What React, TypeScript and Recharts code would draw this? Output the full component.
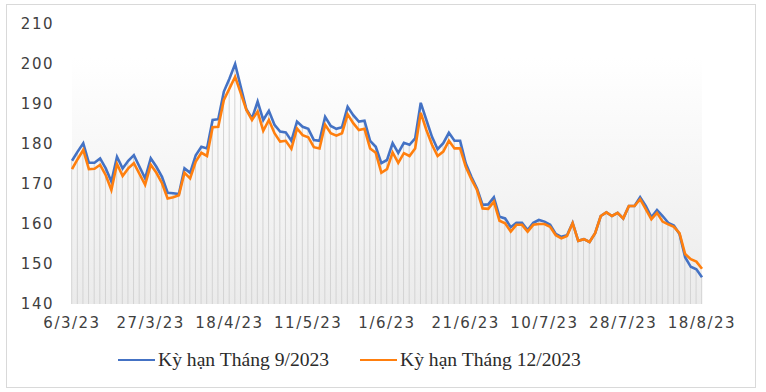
import React from "react"
import { ComposedChart, Bar, Line, XAxis, YAxis, CartesianGrid } from "recharts"

// Kỳ hạn Tháng 9/2023
const blue = [
  175.8, 178.1, 180.2, 175.3, 175.3, 176.4, 173.9, 170.6, 176.8, 173.9,
  175.8, 177.2, 174.3, 171.4, 176.4, 174.3, 171.8, 167.8, 167.7, 167.5,
  173.9, 172.8, 177.2, 179.3, 178.9, 186.0, 186.2, 193.1, 196.4, 200.0,
  194.3, 188.7, 186.4, 190.6, 186.0, 188.3, 184.8, 183.1, 182.9, 180.8,
  185.6, 184.3, 183.8, 181.0, 180.8, 186.8, 184.5, 183.8, 184.2, 189.3,
  187.2, 185.6, 185.8, 180.8, 179.3, 175.2, 176.0, 180.2, 177.8, 180.3,
  179.8, 181.4, 190.3, 186.0, 181.8, 178.7, 180.2, 182.8, 180.8, 180.8,
  175.2, 171.8, 168.9, 164.8, 164.9, 166.7, 161.8, 161.4, 159.2, 160.3,
  160.3, 158.5, 160.3, 161.0, 160.6, 159.8, 157.5, 156.8, 157.2, 160.3,
  155.8, 156.2, 155.5, 157.7, 162.0, 162.9, 162.0, 162.8, 161.4, 164.5,
  164.5, 166.7, 164.5, 161.7, 163.5, 162.0, 160.3, 159.6, 157.5, 151.7,
  149.3, 148.7, 146.7,
]

// Kỳ hạn Tháng 12/2023
const orange = [
  173.7, 176.2, 178.5, 173.7, 173.8, 174.8, 172.2, 168.5, 175.0, 172.0,
  173.9, 175.2, 172.5, 169.8, 174.8, 172.8, 170.2, 166.4, 166.7, 167.2,
  172.8, 171.4, 175.6, 177.8, 177.0, 184.2, 184.3, 191.0, 193.9, 196.8,
  192.7, 188.5, 186.0, 188.1, 183.3, 186.0, 182.7, 180.6, 180.8, 178.8,
  183.9, 182.2, 181.7, 179.2, 178.9, 184.8, 182.7, 182.1, 182.7, 187.4,
  185.2, 183.5, 183.8, 178.9, 177.8, 172.8, 173.7, 177.9, 175.3, 177.7,
  177.0, 178.9, 187.8, 183.5, 179.8, 177.0, 178.1, 180.8, 178.9, 178.9,
  174.3, 171.2, 168.5, 163.9, 163.8, 165.6, 160.8, 160.2, 158.1, 159.8,
  159.8, 158.1, 159.8, 160.0, 160.0, 159.3, 157.2, 156.4, 157.0, 160.2,
  155.8, 156.2, 155.5, 157.7, 162.0, 162.9, 162.0, 162.8, 161.4, 164.5,
  164.5, 166.2, 163.7, 161.2, 162.8, 160.6, 159.9, 159.3, 157.7, 152.5,
  151.2, 150.6, 148.8,
]

const tickLabels = ["6/3/23", "27/3/23", "18/4/23", "11/5/23", "1/6/23", "21/6/23", "10/7/23", "28/7/23", "18/8/23"]
const tickStep = 14
const yTicks = [140, 150, 160, 170, 180, 190, 200, 210]

const seriesNames = ["Kỳ hạn Tháng 9/2023", "Kỳ hạn Tháng 12/2023"]

const data = blue.map((b, i) => ({ idx: i, blue: b, orange: orange[i] }))
const xTicks = tickLabels.map((_, k) => k * tickStep)

const BLUE = "#4472C4"
const ORANGE = "#FF7F0E"

export default function App() {
  const tickStyle = { fontSize: 15, fill: "#404040", fontFamily: "DejaVu Sans" }
  const legendText = {
    position: "absolute" as const,
    top: 347,
    fontFamily: "Liberation Serif",
    fontSize: 19.6,
    lineHeight: "26px",
    color: "#2b2b2b",
    whiteSpace: "nowrap" as const,
  }

  return (
    <div style={{ position: "absolute", left: 0, top: 0, width: 766, height: 392, background: "#fff" }}>
      <div
        style={{
          position: "absolute",
          left: 6,
          top: 4,
          width: 750,
          height: 384,
          border: "1px solid #d9d9d9",
          boxSizing: "border-box",
        }}
      />
      <ComposedChart
        width={766}
        height={392}
        data={data}
        margin={{ top: 24, right: 64, bottom: 58, left: 0 }}
        style={{ position: "absolute", left: 0, top: 0, letterSpacing: "1.5px" }}
      >
        <defs>
          <linearGradient id="plotBg" x1="0" y1="0" x2="0" y2="1">
            <stop offset="0%" stopColor="#ffffff" />
            <stop offset="12%" stopColor="#ffffff" />
            <stop offset="100%" stopColor="#ebebeb" />
          </linearGradient>
        </defs>
        <CartesianGrid horizontal={false} vertical={false} fill="url(#plotBg)" />
        <XAxis
          type="number"
          dataKey="idx"
          domain={[0, blue.length - 1]}
          ticks={xTicks}
          interval={0}
          tickFormatter={(v: number) => tickLabels[Math.round(v / tickStep)] ?? ""}
          axisLine={false}
          tickLine={false}
          tickSize={0}
          tickMargin={13}
          height={30}
          tick={tickStyle}
        />
        <YAxis
          domain={[140, 210]}
          ticks={yTicks}
          interval={0}
          allowDataOverflow
          axisLine={false}
          tickLine={false}
          tickSize={0}
          tickMargin={18}
          width={72}
          tick={tickStyle}
        />
        <Bar dataKey="blue" barSize={1} fill="#d3d3d3" isAnimationActive={false} />
        <Line
          type="linear"
          dataKey="blue"
          stroke={BLUE}
          strokeWidth={2.6}
          dot={false}
          activeDot={false}
          isAnimationActive={false}
        />
        <Line
          type="linear"
          dataKey="orange"
          stroke={ORANGE}
          strokeWidth={2.6}
          dot={false}
          activeDot={false}
          isAnimationActive={false}
        />
      </ComposedChart>

      {/* legend */}
      <div style={{ position: "absolute", left: 118, top: 359, width: 37, height: 2, background: BLUE }} />
      <div style={{ ...legendText, left: 158 }}>{seriesNames[0]}</div>
      <div style={{ position: "absolute", left: 360, top: 359, width: 37, height: 2, background: ORANGE }} />
      <div style={{ ...legendText, left: 400 }}>{seriesNames[1]}</div>
    </div>
  )
}
